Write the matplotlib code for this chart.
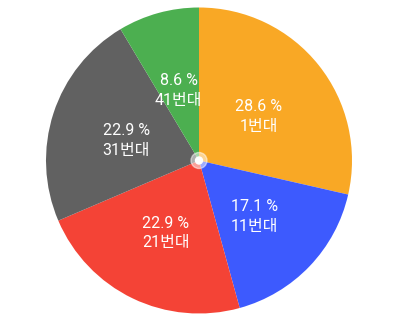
import matplotlib.pyplot as plt
from matplotlib.patches import Circle
from matplotlib.transforms import offset_copy

plt.rcParams['font.family'] = ['Roboto', 'Noto Sans CJK KR', 'DejaVu Sans']

labels = ["1번대", "11번대", "21번대", "31번대", "41번대"]
counts = [10, 6, 8, 8, 3]
colors = ["#F9A825", "#3D5AFE", "#F44336", "#616161", "#4CAF50"]

total = sum(counts)
texts = [f"{c / total * 100:.1f} %\n{lab}" for c, lab in zip(counts, labels)]

fig = plt.figure(figsize=(4, 3.24), dpi=100)
ax = fig.add_axes([0, 0, 1, 1])

r_px = 153
wedges, txts = ax.pie(counts, colors=colors, labels=texts, startangle=90,
                      counterclock=False, labeldistance=0.5, radius=1,
                      textprops=dict(color="white", fontsize=11.5,
                                     ha="center", va="center",
                                     linespacing=1.4))

# nudge labels slightly down
shift = offset_copy(ax.transData, fig=fig, x=0, y=-3.5, units="dots")
for t in txts:
    t.set_transform(shift)

ax.add_patch(Circle((0, 0), 8 / r_px, color="white", alpha=0.5, zorder=5))
ax.add_patch(Circle((0, 0), 3.5 / r_px, color="white", zorder=6))

ax.set_xlim(-199 / r_px, 201 / r_px)
ax.set_ylim(-163.5 / r_px, 160.5 / r_px)
ax.axis("off")

fig.savefig("out.png", dpi=100)
